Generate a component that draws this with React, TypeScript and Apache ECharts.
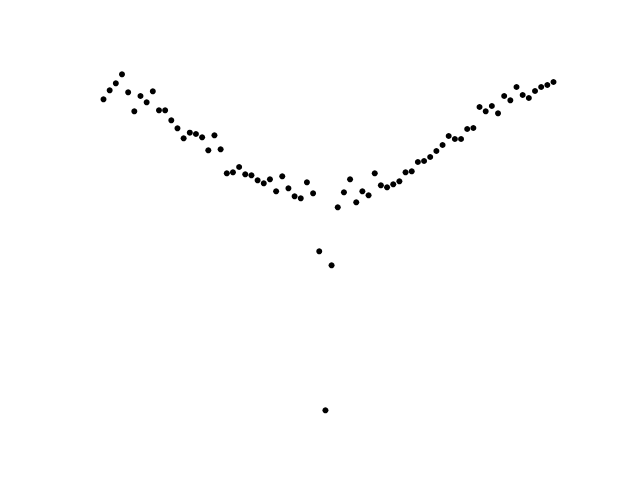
import React, { useEffect, useRef } from "react";
import * as echarts from "echarts";

// Values (one per evenly spaced index)
const indices: number[] = Array.from({ length: 74 }, (_, i) => i);
const values: number[] = [
  323.1, 332.1, 339.1, 348.1, 330.1, 311.1, 326.4, 320.1, 331.1, 312.1,
  312.1, 302.1, 294.1, 284.1, 289.7, 288.4, 285.1, 272.1, 287.1, 273.1,
  249.1, 250.1, 255.4, 248.1, 247.1, 242.1, 239.1, 243.1, 231.1, 246.1,
  234.1, 226.1, 224.1, 240.1, 229.1, 171.1, 12.1, 157.1, 215.1, 230.1,
  243.1, 220.1, 231.1, 227.1, 249.1, 237.1, 235.1, 238.1, 241.1, 250.1,
  251.1, 260.4, 261.4, 265.4, 271.4, 277.4, 286.4, 283.4, 283.4, 293.4,
  294.4, 315.4, 311.1, 316.4, 309.1, 326.4, 322.1, 335.4, 327.4, 324.4,
  331.4, 335.4, 337.4, 340.4,
];

export default function App() {
  const ref = useRef<HTMLDivElement>(null);
  useEffect(() => {
    if (!ref.current) return;
    const chart = echarts.init(ref.current, undefined, { renderer: "svg" });
    const data = indices.map((x, i) => [x, values[i]]);
    chart.setOption({
      animation: false,
      backgroundColor: "#ffffff",
      grid: { left: 81, right: 64, top: 57.6, bottom: 57.6 },
      xAxis: { type: "value", min: -3.65, max: 76.65, show: false },
      yAxis: { type: "value", min: 0, max: 364.8, show: false },
      series: [
        {
          type: "scatter",
          data,
          symbol: "circle",
          symbolSize: 6,
          itemStyle: { color: "#000000", opacity: 1 },
        },
      ],
    });
    return () => chart.dispose();
  }, []);
  return (
    <div
      ref={ref}
      style={{ position: "fixed", left: 0, top: 0, width: 640, height: 480 }}
    />
  );
}
